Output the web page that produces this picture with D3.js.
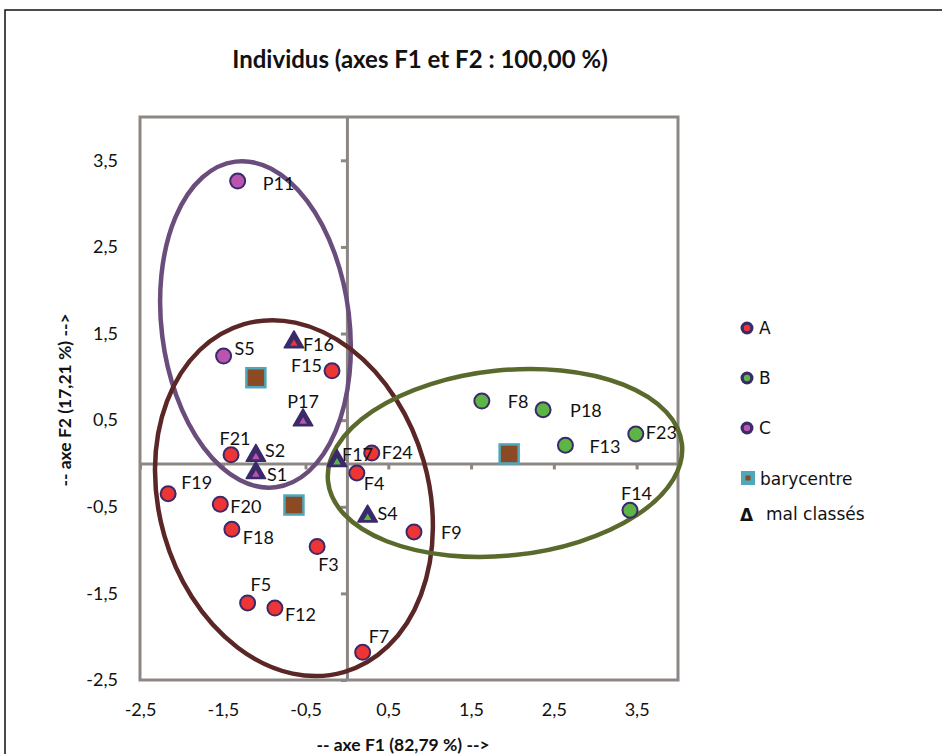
<!DOCTYPE html>
<html><head><meta charset="utf-8">
<script src="https://cdn.jsdelivr.net/npm/d3@7"></script>
<style>body{margin:0;background:#fff;} svg{display:block}</style>
</head><body><svg id="c" width="942" height="754"></svg>
<script>
// ---- data ----
const names  = ["P11","S5","F16","F15","P17","F21","S2","S1","F17","F24","F4","S4","F9","F19","F20","F18","F3","F5","F12","F7","F8","P18","F13","F23","F14"];
const f1     = [-1.32,-1.49,-0.64,-0.18,-0.53,-1.40,-1.10,-1.10,-0.12,0.30,0.12,0.25,0.81,-2.16,-1.53,-1.39,-0.36,-1.20,-0.87,0.19,1.63,2.37,2.64,3.49,3.42];
const f2     = [3.26,1.24,1.40,1.07,0.50,0.10,0.09,-0.11,0.03,0.12,-0.11,-0.61,-0.79,-0.35,-0.47,-0.76,-0.96,-1.61,-1.67,-2.18,0.72,0.62,0.21,0.34,-0.54];
const groups = ["C","C","A","A","C","A","C","C","B","A","A","B","A","A","A","A","A","A","A","A","B","B","B","B","B"];
const malClasses = [false,false,true,false,true,false,true,true,true,false,false,true,false,false,false,false,false,false,false,false,false,false,false,false,false];

const baryGroups = ["A","B","C"];
const baryF1 = [-0.64, 1.96, -1.10];
const baryF2 = [-0.48, 0.11, 0.99];

const ellGroups = ["C","A","B"];
const ellF1 = [-1.105, -0.64, 1.91];
const ellF2 = [1.605, -0.40, 0.006];
const ellR1 = [1.135, 1.63, 2.15];
const ellR2 = [1.894, 2.09, 1.07];
const ellAngle = [-7, -16, -6];

const xTicks = [-2.5,-1.5,-0.5,0.5,1.5,2.5,3.5];
const yTicks = [-2.5,-1.5,-0.5,0.5,1.5,2.5,3.5];
const legendLabels = ["A","B","C"];

// label placement (pixel offsets from the point)
const labelOffsets = {
  P11:[25,2,"start"], S5:[11,-8,"start"], F16:[9,2,"start"], F15:[-10,-5,"end"], P17:[0,-19,"middle"],
  F21:[4,-16,"middle"], S2:[9,-5,"start"], S1:[11,2,"start"], F17:[5,-6,"start"], F24:[10,-1,"start"],
  F4:[7,11,"start"], S4:[10,-3,"start"], F9:[27,1,"start"], F19:[13,-11,"start"], F20:[10,2,"start"],
  F18:[11,8,"start"], F3:[1,18,"start"], F5:[3,-18,"start"], F12:[10,6,"start"], F7:[6,-16,"start"],
  F8:[26,0,"start"], P18:[27,1,"start"], F13:[24,1,"start"], F23:[10,-1,"start"], F14:[-9,-17,"start"]
};

// ---- styles ----
const fill = {A:"#ee3535", B:"#5cb545", C:"#b955ae"};
const ellColor = {C:"#6b4d7c", A:"#5b2626", B:"#5a6a2c"};
const ptStroke = "#3b2a6a";
const gray = "#8d8784";
const fontMain = "Lato, 'Open Sans', sans-serif";
const fontLegend = "'DejaVu Sans', Arial, sans-serif";

const svg = d3.select("#c");
svg.append("rect").attr("x",5).attr("y",10).attr("width",960).attr("height",770)
  .attr("fill","#fff").attr("stroke","#111").attr("stroke-width",1.5);

const x = d3.scaleLinear().domain([-2.5,4]).range([140,678]);
const y = d3.scaleLinear().domain([-2.5,4]).range([680,117]);

// title
svg.append("text").attr("x",420).attr("y",68).attr("text-anchor","middle")
  .attr("font-family",fontMain).attr("font-weight","bold").attr("font-size",24)
  .attr("fill","#111").text("Individus (axes F1 et F2 : 100,00 %)");

// frame
svg.append("rect").attr("x",x(-2.5)).attr("y",y(4)).attr("width",x(4)-x(-2.5)).attr("height",y(-2.5)-y(4))
  .attr("fill","none").attr("stroke",gray).attr("stroke-width",3);

const fmt = v => d3.format(".1f")(v).replace(".",",").replace("−","-");

// tick labels along frame
const xAx = svg.append("g").attr("transform",`translate(0,${y(-2.5)})`)
  .call(d3.axisBottom(x).tickValues(xTicks).tickFormat(fmt).tickSize(0).tickPadding(23));
xAx.select(".domain").remove();
xAx.selectAll("text").attr("font-family",fontMain).attr("font-size",18).attr("fill","#111");

const yAx = svg.append("g").attr("transform",`translate(${x(-2.5)},0)`)
  .call(d3.axisLeft(y).tickValues(yTicks).tickFormat(fmt).tickSize(0).tickPadding(22));
yAx.select(".domain").remove();
yAx.selectAll("text").attr("font-family",fontMain).attr("font-size",18).attr("fill","#111");

// central axes with ticks
const hAx = svg.append("g").attr("transform",`translate(0,${y(0)})`)
  .call(d3.axisBottom(x).tickValues(xTicks).tickFormat("").tickSize(6).tickSizeOuter(0));
hAx.select(".domain").attr("stroke",gray).attr("stroke-width",3);
hAx.selectAll(".tick line").attr("stroke",gray).attr("stroke-width",3);

const vAx = svg.append("g").attr("transform",`translate(${x(0)},0)`)
  .call(d3.axisLeft(y).tickValues(yTicks).tickFormat("").tickSize(6).tickSizeOuter(0));
vAx.select(".domain").attr("stroke",gray).attr("stroke-width",3);
vAx.selectAll(".tick line").attr("stroke",gray).attr("stroke-width",3);

// axis titles
svg.append("text").attr("x",403).attr("y",751).attr("text-anchor","middle")
  .attr("font-family",fontMain).attr("font-weight","bold").attr("font-size",17.5).attr("fill","#111")
  .text("-- axe F1 (82,79 %) -->");
svg.append("text").attr("transform",`translate(71,${400}) rotate(-90)`).attr("text-anchor","middle")
  .attr("font-family",fontMain).attr("font-weight","bold").attr("font-size",17.5).attr("fill","#111")
  .text("-- axe F2 (17,21 %) -->");

// ellipses
ellGroups.forEach((g,i)=>{
  const cx = x(ellF1[i]), cy = y(ellF2[i]);
  svg.append("ellipse").attr("cx",cx).attr("cy",cy)
    .attr("rx", x(ellF1[i]+ellR1[i])-cx).attr("ry", cy - y(ellF2[i]+ellR2[i]))
    .attr("transform",`rotate(${ellAngle[i]},${cx},${cy})`)
    .attr("fill","none").attr("stroke",ellColor[g]).attr("stroke-width",4.5);
});

// barycentres
baryGroups.forEach((g,i)=>{
  svg.append("rect").attr("x",x(baryF1[i])-9.5).attr("y",y(baryF2[i])-9.5).attr("width",19).attr("height",19)
    .attr("fill","#8b4a24").attr("stroke","#4fa7ba").attr("stroke-width",2.5);
});

// points
const pts = names.map((n,i)=>({n, fx:f1[i], fy:f2[i], g:groups[i], m:malClasses[i]}));
const triOuter = d3.symbol(d3.symbolTriangle, 165)();
const triInner = d3.symbol(d3.symbolTriangle, 24)();
pts.forEach(p=>{
  const px = x(p.fx), py = y(p.fy);
  if (p.m) {
    svg.append("path").attr("d",triOuter).attr("transform",`translate(${px},${py})`)
      .attr("fill",ptStroke).attr("stroke",ptStroke).attr("stroke-width",1.5).attr("stroke-linejoin","round");
    svg.append("path").attr("d",triInner).attr("transform",`translate(${px},${py+1.5})`)
      .attr("fill",fill[p.g]);
  } else {
    svg.append("circle").attr("cx",px).attr("cy",py).attr("r",7.5)
      .attr("fill",fill[p.g]).attr("stroke",ptStroke).attr("stroke-width",2);
  }
});
// labels
pts.forEach(p=>{
  const o = labelOffsets[p.n];
  svg.append("text").attr("x",x(p.fx)+o[0]).attr("y",y(p.fy)+o[1]).attr("dy","0.36em")
    .attr("text-anchor",o[2]).attr("font-family",fontMain).attr("font-size",18).attr("fill","#111")
    .text(p.n);
});

// legend
const lg = svg.append("g");
legendLabels.forEach((g,i)=>{
  const cy = 328 + i*50;
  lg.append("circle").attr("cx",747).attr("cy",cy).attr("r",6.5).attr("fill",ptStroke);
  lg.append("circle").attr("cx",747).attr("cy",cy).attr("r",3.2).attr("fill",fill[g]);
  lg.append("text").attr("x",759).attr("y",cy).attr("dy","0.36em").attr("font-family",fontLegend)
    .attr("font-size",17).attr("fill","#111").text(g);
});
lg.append("rect").attr("x",741).attr("y",471).attr("width",14).attr("height",14).attr("fill","#4fa7ba");
lg.append("rect").attr("x",745.5).attr("y",475.5).attr("width",5).attr("height",5).attr("fill","#8b4a24");
lg.append("text").attr("x",760).attr("y",479).attr("dy","0.36em").attr("font-family",fontLegend)
  .attr("font-size",17).attr("fill","#111").text("barycentre");
lg.append("text").attr("x",740).attr("y",515).attr("dy","0.36em").attr("font-family",fontLegend)
  .attr("font-weight","bold").attr("font-size",17).attr("fill","#111").text("Δ");
lg.append("text").attr("x",766).attr("y",514).attr("dy","0.36em").attr("font-family",fontLegend)
  .attr("font-size",17).attr("fill","#111").text("mal classés");
</script></body></html>
